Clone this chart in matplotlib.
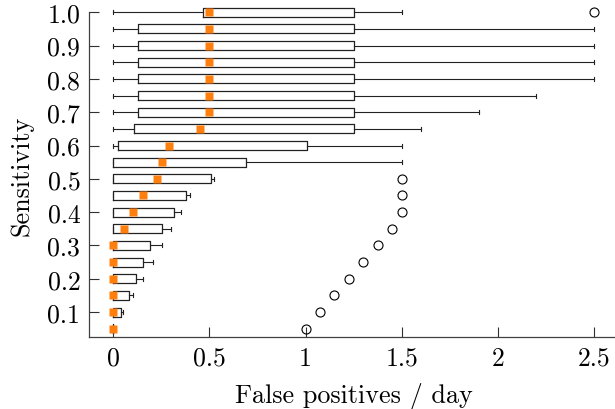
import matplotlib
matplotlib.use("Agg")
import matplotlib.pyplot as plt

plt.rcParams['font.family'] = ['cmr10', 'DejaVu Serif']
plt.rcParams['axes.formatter.use_mathtext'] = True
plt.rcParams['mathtext.fontset'] = 'cm'

# sensitivity levels (one box per level)
sensitivity = [0.05, 0.10, 0.15, 0.20, 0.25, 0.30, 0.35, 0.40, 0.45, 0.50,
               0.55, 0.60, 0.65, 0.70, 0.75, 0.80, 0.85, 0.90, 0.95, 1.00]

# false positives / day
whis_lo = [0.0] * 20
q1 = [0.0, 0.0, 0.0, 0.0, 0.0, 0.0, 0.0, 0.0, 0.0, 0.0,
      0.0, 0.022, 0.105, 0.127, 0.127, 0.127, 0.127, 0.127, 0.127, 0.465]
median = [0.0, 0.0, 0.0, 0.0, 0.0, 0.0, 0.054, 0.102, 0.154, 0.228,
          0.252, 0.29, 0.45, 0.5, 0.5, 0.5, 0.5, 0.5, 0.5, 0.5]
q3 = [0.0, 0.042, 0.080, 0.116, 0.154, 0.192, 0.254, 0.316, 0.379, 0.508,
      0.69, 1.008, 1.25, 1.25, 1.25, 1.25, 1.25, 1.25, 1.25, 1.25]
whis_hi = [0.0, 0.052, 0.104, 0.152, 0.204, 0.252, 0.30, 0.351, 0.40, 0.525,
           1.5, 1.5, 1.6, 1.9, 2.2, 2.5, 2.5, 2.5, 2.5, 1.5]
outliers = [[1.0], [1.075], [1.15], [1.225], [1.30], [1.375], [1.45], [1.5], [1.5], [1.5],
            [], [], [], [], [], [], [], [], [], [2.5]]

x_ticks = [0, 0.5, 1, 1.5, 2, 2.5]
x_tick_labels = ['0', '0.5', '1', '1.5', '2', '2.5']
y_ticks = [0.1, 0.2, 0.3, 0.4, 0.5, 0.6, 0.7, 0.8, 0.9, 1.0]
y_tick_labels = ['0.1', '0.2', '0.3', '0.4', '0.5', '0.6', '0.7', '0.8', '0.9', '1.0']

stats = []
for i in range(len(sensitivity)):
    stats.append(dict(whislo=whis_lo[i], q1=q1[i], med=median[i], q3=q3[i],
                      whishi=whis_hi[i], mean=median[i], fliers=outliers[i]))

fig = plt.figure(figsize=(6.15, 4.1), dpi=100)
ax = fig.add_axes([89.3 / 615, 72 / 410, 528.8 / 615, 324.7 / 410])

art = ax.bxp(
    stats, positions=sensitivity, vert=False, widths=0.027,
    capwidths=0.012, showmeans=True, patch_artist=False,
    boxprops=dict(color='#222222', linewidth=0.9),
    whiskerprops=dict(color='#222222', linewidth=0.8),
    capprops=dict(color='#222222', linewidth=0.8),
    medianprops=dict(visible=False),
    meanprops=dict(marker='s', markerfacecolor='#ff7f0e', markeredgecolor='none',
                   markersize=6),
    flierprops=dict(marker='o', markerfacecolor='none', markeredgecolor='black',
                    markeredgewidth=0.8, markersize=6.5),
    manage_ticks=False,
)
for key in art:
    for a in art[key]:
        a.set_clip_on(False)
for m in art['means']:
    m.set_zorder(5)

ax.set_xlim(-0.125, 2.625)
ax.set_ylim(0.025, 1.0)
ax.set_xticks(x_ticks, labels=x_tick_labels)
ax.set_yticks(y_ticks, labels=y_tick_labels)

for side in ['top', 'right']:
    ax.spines[side].set_visible(False)
for side in ['left', 'bottom']:
    ax.spines[side].set_color('#404040')
    ax.spines[side].set_linewidth(0.9)

ax.tick_params(direction='in', length=7.5, width=0.8, color='#303030',
               labelsize=18.5, pad=6.5)

ax.set_xlabel('False positives / day', fontsize=18.8, labelpad=9)
ax.set_ylabel('Sensitivity', fontsize=18.8, labelpad=10)

fig.savefig('out.png', dpi=100)
